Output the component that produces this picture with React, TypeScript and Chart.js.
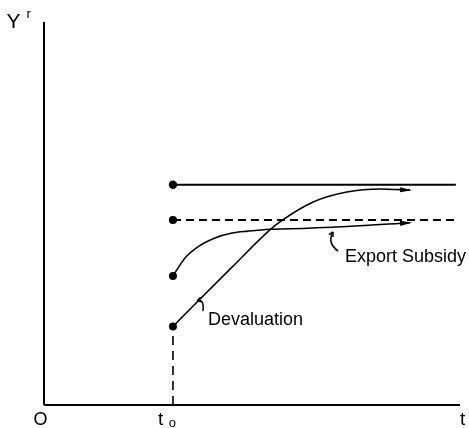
import React, { useEffect, useRef } from "react";
import { Chart, registerables } from "chart.js";

Chart.register(...registerables);

// ---- data (arbitrary units: time on x, real income Y^r on y) ----
const X_MAX = 10;
const Y_MAX = 10;
const T0 = 3.1;
const T_END = 9.9;
const devalLevel = 5.75; // solid long-run level
const subsidyLevel = 4.83; // dashed long-run level
const subsidyX = [3.1, 3.39, 3.7, 4.11, 4.52, 4.9, 5.43, 5.91, 7.28, 8.8];
const subsidyY = [3.37, 3.84, 4.13, 4.36, 4.49, 4.54, 4.59, 4.6, 4.66, 4.76];
const devalX = [3.1, 3.68, 4.52, 5.43, 5.67, 6.47, 7.28, 8.08, 8.8];
const devalY = [2.05, 2.69, 3.6, 4.57, 4.78, 5.3, 5.56, 5.64, 5.61];

// text labels
const labelTexts = ["Y", "r", "O", "t", "o", "t", "Devaluation", "Export Subsidy"];
const labelX = [-0.9, -0.42, -0.084, 2.74, 3.0, 10.0, 3.94, 7.236];
const labelY = [9.843, 10.1, -0.522, -0.522, -0.574, -0.522, 2.089, 3.74];
const labelSize = [21, 13, 18, 19, 13, 19, 18, 18];
const labelAlign = ["left", "left", "center", "left", "left", "left", "left", "left"];

// leader hooks: start (on curve), control, end (near label)
const hookDevalX = [3.68, 3.86, 3.82];
const hookDevalY = [2.72, 2.78, 2.45];
const hookSubsidyX = [6.947, 6.8, 7.07];
const hookSubsidyY = [4.517, 4.23, 4.02];

const pts = (xs: number[], ys: number[]) => xs.map((x, i) => ({ x, y: ys[i] }));

const firstDot = (n: number) => Array.from({ length: n }, (_, i) => (i === 0 ? 3.2 : 0));

const decorPlugin = {
  id: "decor",
  afterDatasetsDraw(chart: any) {
    const ctx = chart.ctx;
    const xs = chart.scales.x;
    const ys = chart.scales.y;
    const px = (v: number) => xs.getPixelForValue(v);
    const py = (v: number) => ys.getPixelForValue(v);
    ctx.save();
    ctx.fillStyle = "#000";
    ctx.strokeStyle = "#000";

    // arrowheads at curve ends
    const arrow = (xArr: number[], yArr: number[]) => {
      const n = xArr.length;
      const x1 = px(xArr[n - 1]);
      const y1 = py(yArr[n - 1]);
      const x0 = px(xArr[n - 2]);
      const y0 = py(yArr[n - 2]);
      const a = Math.atan2(y1 - y0, x1 - x0);
      const L = 10;
      const W = 2.6;
      ctx.beginPath();
      ctx.moveTo(x1 + 2 * Math.cos(a), y1 + 2 * Math.sin(a));
      ctx.lineTo(x1 - L * Math.cos(a) - W * Math.sin(a), y1 - L * Math.sin(a) + W * Math.cos(a));
      ctx.lineTo(x1 - L * Math.cos(a) + W * Math.sin(a), y1 - L * Math.sin(a) - W * Math.cos(a));
      ctx.closePath();
      ctx.fill();
    };
    arrow(subsidyX, subsidyY);
    arrow(devalX, devalY);

    // hooks
    const hook = (hx: number[], hy: number[]) => {
      ctx.lineWidth = 1.5;
      ctx.beginPath();
      ctx.moveTo(px(hx[0]), py(hy[0]));
      ctx.quadraticCurveTo(px(hx[1]), py(hy[1]), px(hx[2]), py(hy[2]));
      ctx.stroke();
      const sx = px(hx[0]);
      const sy = py(hy[0]);
      const cx = px(hx[1]);
      const cy = py(hy[1]);
      const a = Math.atan2(sy - cy, sx - cx);
      ctx.beginPath();
      ctx.moveTo(sx, sy);
      ctx.lineTo(sx - 5 * Math.cos(a - 0.5), sy - 5 * Math.sin(a - 0.5));
      ctx.moveTo(sx, sy);
      ctx.lineTo(sx - 5 * Math.cos(a + 0.5), sy - 5 * Math.sin(a + 0.5));
      ctx.stroke();
    };
    hook(hookDevalX, hookDevalY);
    hook(hookSubsidyX, hookSubsidyY);

    // texts
    ctx.textBaseline = "alphabetic";
    labelTexts.forEach((t, i) => {
      ctx.font = `${labelSize[i]}px "Liberation Sans", Arial, sans-serif`;
      ctx.textAlign = labelAlign[i];
      ctx.fillText(t, px(labelX[i]), py(labelY[i]));
    });
    ctx.restore();
  },
};

export default function App() {
  const ref = useRef<HTMLCanvasElement | null>(null);
  useEffect(() => {
    if (!ref.current) return;
    const black = "#000";
    const chart = new Chart(ref.current, {
      type: "scatter",
      data: {
        datasets: [
          {
            data: [{ x: 0, y: 0 }, { x: 0, y: Y_MAX }],
            showLine: true,
            borderColor: black,
            borderWidth: 2,
            pointRadius: 0,
            clip: false,
          } as any,
          {
            data: [{ x: 0, y: 0 }, { x: X_MAX, y: 0 }],
            showLine: true,
            borderColor: black,
            borderWidth: 2,
            pointRadius: 0,
            clip: false,
          },
          {
            data: [{ x: T0, y: 0 }, { x: T0, y: devalY[0] }],
            showLine: true,
            borderColor: black,
            borderWidth: 1.6,
            borderDash: [9, 6],
            pointRadius: 0,
            clip: false,
          },
          {
            data: [{ x: T0, y: devalLevel }, { x: T_END, y: devalLevel }],
            showLine: true,
            borderColor: black,
            borderWidth: 2,
            pointRadius: firstDot(2),
            pointBackgroundColor: black,
            pointBorderColor: black,
            clip: false,
          },
          {
            data: [{ x: T0, y: subsidyLevel }, { x: T_END, y: subsidyLevel }],
            showLine: true,
            borderColor: black,
            borderWidth: 1.8,
            borderDash: [8, 5],
            pointRadius: firstDot(2),
            pointBackgroundColor: black,
            pointBorderColor: black,
            clip: false,
          },
          {
            label: "Export Subsidy",
            data: pts(subsidyX, subsidyY),
            showLine: true,
            borderColor: black,
            borderWidth: 1.6,
            cubicInterpolationMode: "monotone",
            pointRadius: firstDot(subsidyX.length),
            pointBackgroundColor: black,
            pointBorderColor: black,
            clip: false,
          },
          {
            label: "Devaluation",
            data: pts(devalX, devalY),
            showLine: true,
            borderColor: black,
            borderWidth: 1.6,
            cubicInterpolationMode: "monotone",
            pointRadius: firstDot(devalX.length),
            pointBackgroundColor: black,
            pointBorderColor: black,
            clip: false,
          },
        ],
      },
      options: {
        animation: false,
        responsive: false,
        devicePixelRatio: 1,
        layout: { padding: { left: 44, right: 9, top: 22, bottom: 23 } },
        scales: {
          x: { type: "linear", min: 0, max: X_MAX, display: false },
          y: { type: "linear", min: 0, max: Y_MAX, display: false },
        },
        plugins: { legend: { display: false }, tooltip: { enabled: false } },
        events: [],
      },
      plugins: [decorPlugin],
    });
    return () => chart.destroy();
  }, []);
  return (
    <div style={{ position: "absolute", left: 0, top: 0, width: 469, height: 428, background: "#fff" }}>
      <canvas ref={ref} width={469} height={428} style={{ display: "block" }} />
    </div>
  );
}
